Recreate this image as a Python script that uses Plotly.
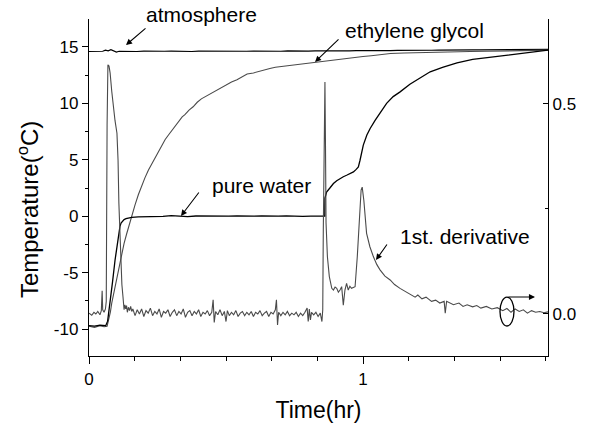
import plotly.graph_objects as go

# ---------------- data ----------------
t_atm = [0.000, 0.025, 0.050, 0.060, 0.070, 0.080, 0.090, 0.100, 0.110, 0.125,
         0.150, 0.175, 0.200, 0.225, 0.250, 0.275, 0.300, 0.325, 0.350, 0.375,
         0.400, 0.425, 0.450, 0.475, 0.500, 0.525, 0.550, 0.575, 0.600, 0.625,
         0.650, 0.675, 0.700, 0.725, 0.750, 0.775, 0.800, 0.825, 0.850, 0.875,
         0.900, 0.925, 0.950, 0.975, 1.000, 1.025, 1.050, 1.075, 1.100, 1.125,
         1.150, 1.175, 1.200, 1.225, 1.250, 1.275, 1.300, 1.325, 1.350, 1.375,
         1.400, 1.425, 1.450, 1.475, 1.500, 1.525, 1.550, 1.575, 1.600, 1.625,
         1.650, 1.675]
T_atm = [14.60, 14.60, 14.62, 14.72, 14.66, 14.76, 14.62, 14.55, 14.62, 14.61,
         14.62, 14.60, 14.63, 14.61, 14.58, 14.62, 14.64, 14.61, 14.62, 14.60,
         14.63, 14.62, 14.61, 14.66, 14.62, 14.60, 14.63, 14.62, 14.64, 14.62,
         14.63, 14.64, 14.62, 14.65, 14.63, 14.65, 14.63, 14.65, 14.64, 14.66,
         14.65, 14.66, 14.66, 14.68, 14.67, 14.68, 14.67, 14.69, 14.68, 14.70,
         14.69, 14.71, 14.70, 14.72, 14.71, 14.73, 14.72, 14.74, 14.73, 14.74,
         14.74, 14.75, 14.75, 14.76, 14.76, 14.77, 14.76, 14.78, 14.77, 14.78,
         14.78, 14.79]

t_eg = [0.000, 0.020, 0.040, 0.055, 0.066, 0.072, 0.078, 0.083, 0.090, 0.100,
        0.110, 0.119, 0.128, 0.137, 0.146, 0.156, 0.168, 0.180, 0.192, 0.204,
        0.217, 0.230, 0.241, 0.252, 0.265, 0.278, 0.290, 0.303, 0.317, 0.330,
        0.340, 0.350, 0.365, 0.380, 0.395, 0.410, 0.425, 0.440, 0.455, 0.467,
        0.485, 0.500, 0.520, 0.540, 0.560, 0.577, 0.600, 0.620, 0.640, 0.660,
        0.680, 0.697, 0.720, 0.750, 0.780, 0.818, 0.850, 0.870, 0.890, 0.916,
        0.940, 0.953, 0.980, 1.000, 1.030, 1.060, 1.100, 1.150, 1.200, 1.250,
        1.300, 1.350, 1.390, 1.450, 1.500, 1.550, 1.600, 1.640, 1.675]
T_eg = [-9.75, -9.85, -9.70, -9.80, -9.75, -9.20, -8.50, -7.70, -6.85, -5.60,
        -4.40, -3.30, -2.40, -1.60, -0.80, 0.00, 1.00, 1.90, 2.70, 3.40,
        4.10, 4.70, 5.20, 5.60, 6.25, 6.80, 7.20, 7.60, 8.10, 8.50,
        8.80, 9.00, 9.40, 9.70, 10.10, 10.40, 10.60, 10.80, 11.05, 11.20,
        11.40, 11.60, 11.90, 12.10, 12.40, 12.60, 12.70, 12.85, 13.00, 13.10,
        13.20, 13.25, 13.35, 13.45, 13.55, 13.65, 13.72, 13.76, 13.82, 13.90,
        13.98, 14.05, 14.10, 14.15, 14.22, 14.30, 14.42, 14.46, 14.50, 14.52,
        14.55, 14.57, 14.60, 14.62, 14.65, 14.67, 14.70, 14.71, 14.72]

t_pw = [0.000, 0.020, 0.040, 0.055, 0.061, 0.068, 0.077, 0.086, 0.095, 0.101,
        0.107, 0.113, 0.117, 0.122, 0.128, 0.135, 0.145, 0.156, 0.180, 0.210,
        0.240, 0.270, 0.300, 0.330, 0.360, 0.390, 0.420, 0.450, 0.480, 0.510,
        0.540, 0.570, 0.600, 0.630, 0.660, 0.690, 0.720, 0.750, 0.780, 0.810,
        0.840, 0.8605, 0.861, 0.864, 0.867, 0.879, 0.892, 0.904, 0.916, 0.928,
        0.940, 0.952, 0.965, 0.975, 0.983, 0.989, 0.995, 1.001, 1.014, 1.026,
        1.044, 1.062, 1.086, 1.110, 1.134, 1.171, 1.210, 1.245, 1.290, 1.343,
        1.400, 1.464, 1.520, 1.584, 1.630, 1.675]
T_pw = [-9.70, -9.75, -9.65, -9.70, -9.70, -9.30, -7.70, -5.80, -3.90, -2.80,
        -1.80, -0.90, -0.60, -0.42, -0.30, -0.22, -0.15, -0.10, -0.06, -0.05,
        0.00, -0.02, 0.05, 0.00, -0.03, 0.02, 0.00, 0.04, -0.02, 0.00,
        0.03, -0.01, 0.00, 0.02, -0.02, 0.00, 0.03, 0.00, -0.02, 0.01,
        0.00, 0.00, 1.60, 1.80, 2.15, 2.50, 2.90, 3.15, 3.34, 3.50,
        3.63, 3.78, 3.93, 4.15, 4.37, 4.96, 5.70, 6.30, 7.20, 7.78,
        8.50, 9.10, 10.00, 10.60, 11.00, 11.70, 12.30, 12.80, 13.20, 13.60,
        13.90, 14.10, 14.30, 14.45, 14.60, 14.72]

t_der = [0.000, 0.010, 0.018, 0.025, 0.032, 0.040, 0.045, 0.048, 0.050, 0.055,
         0.060, 0.063, 0.066, 0.069, 0.073, 0.077, 0.083, 0.088, 0.095, 0.102,
         0.106, 0.109, 0.113, 0.117, 0.120, 0.124, 0.126, 0.128, 0.131, 0.134,
         0.137, 0.140, 0.144, 0.148, 0.152, 0.156, 0.160, 0.168, 0.176, 0.184,
         0.192, 0.200, 0.208, 0.216, 0.224, 0.232, 0.240, 0.248, 0.256, 0.264,
         0.272, 0.280, 0.288, 0.296, 0.304, 0.312, 0.320, 0.328, 0.336, 0.344,
         0.352, 0.360, 0.368, 0.376, 0.384, 0.392, 0.400, 0.408, 0.416, 0.424,
         0.432, 0.440, 0.448, 0.453, 0.457, 0.462, 0.470, 0.478, 0.486, 0.494,
         0.500, 0.505, 0.512, 0.520, 0.528, 0.536, 0.544, 0.552, 0.560, 0.568,
         0.576, 0.584, 0.592, 0.600, 0.608, 0.616, 0.624, 0.632, 0.640, 0.648,
         0.656, 0.664, 0.672, 0.680, 0.684, 0.688, 0.692, 0.700, 0.708, 0.716,
         0.724, 0.732, 0.740, 0.748, 0.756, 0.764, 0.772, 0.780, 0.788, 0.796,
         0.800, 0.804, 0.808, 0.812, 0.820, 0.828, 0.836, 0.844, 0.850, 0.853,
         0.855, 0.858, 0.861, 0.863, 0.865, 0.870, 0.877, 0.886, 0.892, 0.898,
         0.904, 0.910, 0.916, 0.922, 0.928, 0.934, 0.940, 0.946, 0.952, 0.958,
         0.965, 0.971, 0.979, 0.986, 0.993, 0.997, 1.003, 1.013, 1.025, 1.038,
         1.050, 1.062, 1.080, 1.099, 1.115, 1.135, 1.150, 1.172, 1.190, 1.200,
         1.215, 1.230, 1.250, 1.265, 1.280, 1.296, 1.300, 1.305, 1.330, 1.350,
         1.365, 1.380, 1.400, 1.415, 1.430, 1.450, 1.470, 1.490, 1.510, 1.525,
         1.540, 1.555, 1.570, 1.585, 1.600, 1.615, 1.630, 1.645, 1.660, 1.675]
D_der = [0.002, -0.003, 0.004, 0.000, 0.006, -0.002, 0.008, 0.055, 0.010, 0.004,
         0.012, 0.030, 0.450, 0.593, 0.590, 0.574, 0.530, 0.493, 0.460, 0.430,
         0.366, 0.264, 0.180, 0.105, 0.070, 0.041, 0.026, 0.010, 0.022, 0.012,
         0.020, 0.004, 0.016, 0.008, 0.018, 0.006, 0.012, -0.004, 0.010, 0.000,
         0.012, -0.006, 0.008, 0.002, 0.014, -0.004, 0.006, 0.000, 0.012, -0.008,
         0.006, 0.002, 0.010, -0.006, 0.004, 0.010, -0.004, 0.006, 0.000, 0.012,
         -0.008, 0.004, 0.008, -0.004, 0.006, 0.000, 0.010, -0.006, 0.004, 0.000,
         0.008, -0.004, 0.004, 0.034, -0.020, 0.006, -0.002, 0.010, -0.004, 0.006,
         -0.018, 0.008, -0.004, 0.004, -0.002, 0.008, -0.006, 0.002, 0.006, -0.004,
         0.004, -0.002, 0.006, -0.006, 0.004, 0.000, 0.008, -0.004, 0.002, 0.006,
         -0.006, 0.004, 0.000, 0.010, 0.034, -0.026, 0.004, -0.004, 0.004, -0.002,
         0.006, -0.004, 0.002, -0.002, 0.004, -0.006, 0.002, -0.004, 0.004, 0.014,
         -0.018, 0.012, -0.014, 0.004, -0.002, 0.004, -0.006, 0.002, -0.018, 0.010,
         0.200, 0.500, 0.552, 0.400, 0.217, 0.136, 0.089, 0.061, 0.057, 0.064,
         0.061, 0.052, 0.057, 0.065, 0.021, 0.057, 0.073, 0.057, 0.066, 0.061,
         0.063, 0.065, 0.136, 0.216, 0.295, 0.302, 0.270, 0.192, 0.160, 0.136,
         0.118, 0.105, 0.090, 0.081, 0.070, 0.061, 0.055, 0.046, 0.040, 0.045,
         0.036, 0.040, 0.030, 0.033, 0.026, 0.030, 0.002, 0.030, 0.022, 0.026,
         0.018, 0.022, 0.017, 0.020, 0.014, 0.018, 0.012, 0.015, 0.008, 0.013,
         0.004, 0.012, 0.006, 0.010, 0.002, 0.008, 0.004, 0.006, 0.003, 0.005]

left_ticks = [-10, -5, 0, 5, 10, 15]
left_labels = ["-10", "-5", "0", "5", "10", "15"]
left_minor = [-7.5, -2.5, 2.5, 7.5, 12.5]
right_ticks = [0.0, 0.5]
right_labels = ["0.0", "0.5"]
right_minor = [0.25]
x_ticks = [0, 1]
x_labels = ["0", "1"]
x_minor = [1/6, 2/6, 3/6, 4/6, 5/6, 7/6, 8/6, 9/6, 10/6]

FONT = "Arial, Liberation Sans, sans-serif"
BLACK = "#000000"
GREY = "#4a4a4a"

fig = go.Figure()
fig.add_trace(go.Scatter(x=t_atm, y=T_atm, mode="lines", line=dict(color=BLACK, width=1.2),
                         name="atmosphere", showlegend=False))
fig.add_trace(go.Scatter(x=t_eg, y=T_eg, mode="lines", line=dict(color=GREY, width=1.1),
                         name="ethylene glycol", showlegend=False))
fig.add_trace(go.Scatter(x=t_pw, y=T_pw, mode="lines", line=dict(color=BLACK, width=1.3),
                         name="pure water", showlegend=False))
fig.add_trace(go.Scatter(x=t_der, y=D_der, mode="lines", line=dict(color=GREY, width=1.1),
                         name="1st. derivative", yaxis="y2", showlegend=False))

axis_common = dict(showgrid=False, zeroline=False, showline=True, linecolor="black",
                   linewidth=1.3, tickcolor="black", tickwidth=1.2,
                   tickfont=dict(family=FONT, size=17, color="black"))

fig.update_layout(
    width=591, height=426,
    margin=dict(l=89, r=43, t=19, b=70, autoexpand=False),
    paper_bgcolor="white", plot_bgcolor="white",
    font=dict(family=FONT, color="black"),
    xaxis=dict(axis_common, range=[0, 1.675], tickmode="array", tickvals=x_ticks,
               ticktext=x_labels, ticks="outside", ticklen=7,
               minor=dict(tickmode="array", tickvals=x_minor, ticks="outside", ticklen=4,
                          tickcolor="black", tickwidth=1.2),
               title=dict(text="Time(hr)", font=dict(family=FONT, size=23), standoff=14)),
    yaxis=dict(axis_common, range=[-12.39, 17.48], tickmode="array", tickvals=left_ticks,
               ticktext=left_labels, ticks="outside", ticklen=6,
               minor=dict(tickmode="array", tickvals=left_minor, ticks="outside", ticklen=3,
                          tickcolor="black", tickwidth=1.2)),
    yaxis2=dict(axis_common, overlaying="y", side="right", range=[-0.1, 0.702],
                tickmode="array", tickvals=right_ticks, ticktext=right_labels,
                ticks="inside", ticklen=5,
                minor=dict(tickmode="array", tickvals=right_minor, ticks="inside", ticklen=3,
                           tickcolor="black", tickwidth=1.2)),
)

# y-axis title (placed as in the reference, slightly below the plot centre)
fig.add_annotation(text="Temperature(<sup>o</sup>C)", x=-0.1329, y=0.436,
                   xref="paper", yref="paper", textangle=-90, showarrow=False,
                   font=dict(family=FONT, size=24, color="black"),
                   xanchor="center", yanchor="middle")

ann_font = dict(family=FONT, size=21, color="black")
labels = [("atmosphere", 0.246, 1.012), ("ethylene glycol", 0.710, 0.967),
          ("pure water", 0.375, 0.507), ("1st. derivative", 0.819, 0.356)]
for txt, px, py in labels:
    fig.add_annotation(text=txt, x=px, y=py, xref="paper", yref="paper",
                       showarrow=False, font=ann_font, xanchor="center", yanchor="middle")

arrows = [(0.0806, 0.9228, 21, -18), (0.4924, 0.8724, 25, -24),
          (0.2004, 0.4154, 19, -25), (0.6253, 0.2849, 12, -17),
          (0.9717, 0.175, -28, 0)]
for px, py, ax, ay in arrows:
    fig.add_annotation(text="", x=px, y=py, xref="paper", yref="paper",
                       showarrow=True, ax=ax, ay=ay, arrowhead=2, arrowsize=1.1,
                       arrowwidth=1.1, arrowcolor="black", standoff=0)

fig.add_shape(type="circle", xref="paper", yref="paper",
              x0=0.8954, x1=0.9259, y0=0.089, y1=0.175,
              line=dict(color="black", width=1.3))

fig.write_html("out.html")
